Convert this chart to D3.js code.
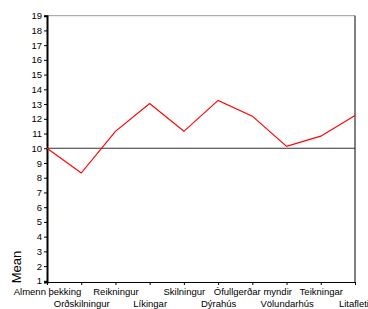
<!DOCTYPE html>
<html>
<head>
<meta charset="utf-8">
<script src="https://cdn.jsdelivr.net/npm/d3@7"></script>
<style>
  body { margin: 0; background: #fff; }
  svg { display: block; }
  text { font-family: "Liberation Sans", Arial, sans-serif; fill: #000; }
</style>
</head>
<body>
<svg id="chart" width="368" height="309"></svg>
<script>
const categories = ['Almenn þekking', 'Orðskilningur', 'Reikningur', 'Líkingar', 'Skilningur',
    'Dýrahús', 'Ófullgerðar myndir', 'Völundarhús', 'Teikningar', 'Litafletir']
const means = [10.0, 8.32, 11.15, 13.03, 11.15, 13.25, 12.18, 10.13, 10.82, 12.23]
const yTicks = [1, 2, 3, 4, 5, 6, 7, 8, 9, 10, 11, 12, 13, 14, 15, 16, 17, 18, 19]
const refValue = [10]

const svg = d3.select('#chart')
const plot = { left: 47, right: 355, top: 15.7, bottom: 282 }

const x = d3.scalePoint().domain(categories).range([plot.left, plot.right]).padding(0)
const y = d3.scaleLinear().domain([0.92, 19]).range([plot.bottom, plot.top])

// frame: top (grey) and right (black)
svg.append('line').attr('x1', plot.left).attr('x2', plot.right).attr('y1', plot.top).attr('y2', plot.top)
    .attr('stroke', '#999').attr('stroke-width', 1)
svg.append('line').attr('x1', plot.right).attr('x2', plot.right).attr('y1', plot.top).attr('y2', plot.bottom)
    .attr('stroke', '#000').attr('stroke-width', 1)

// y axis
const yAxis = svg.append('g')
    .attr('transform', 'translate(' + plot.left + ',0)')
    .call(d3.axisLeft(y).tickValues(yTicks).tickSize(3).tickPadding(2))
yAxis.select('.domain').attr('stroke', '#000').attr('stroke-width', 2)
yAxis.selectAll('.tick line').attr('stroke', '#000')
yAxis.selectAll('text').style('font-size', '9.5px')

// x axis
const xAxis = svg.append('g')
    .attr('transform', 'translate(0,' + plot.bottom + ')')
    .call(d3.axisBottom(x).tickSize(3).tickPadding(2))
xAxis.select('.domain').attr('stroke', '#000').attr('stroke-width', 1)
xAxis.selectAll('.tick line').attr('stroke', '#000')
xAxis.selectAll('text')
    .style('font-size', '9.5px')
    .attr('dy', null)
    .attr('y', (d, i) => i % 2 === 0 ? 13 : 25)

// reference line
svg.selectAll('line.ref')
    .data(refValue)
    .join('line')
    .attr('class', 'ref')
    .attr('x1', plot.left).attr('x2', plot.right)
    .attr('y1', d => y(d)).attr('y2', d => y(d))
    .attr('stroke', '#333').attr('stroke-width', 1.2)

// mean line
const line = d3.line().x((d, i) => x(categories[i])).y(d => y(d))
svg.append('path')
    .datum(means)
    .attr('d', line)
    .attr('fill', 'none')
    .attr('stroke', '#ff0000')
    .attr('stroke-width', 1.2)

// axis title
svg.append('text')
    .attr('transform', 'translate(21,267) rotate(-90)')
    .attr('text-anchor', 'middle')
    .style('font-size', '13px')
    .text('Mean')
</script>
</body>
</html>
